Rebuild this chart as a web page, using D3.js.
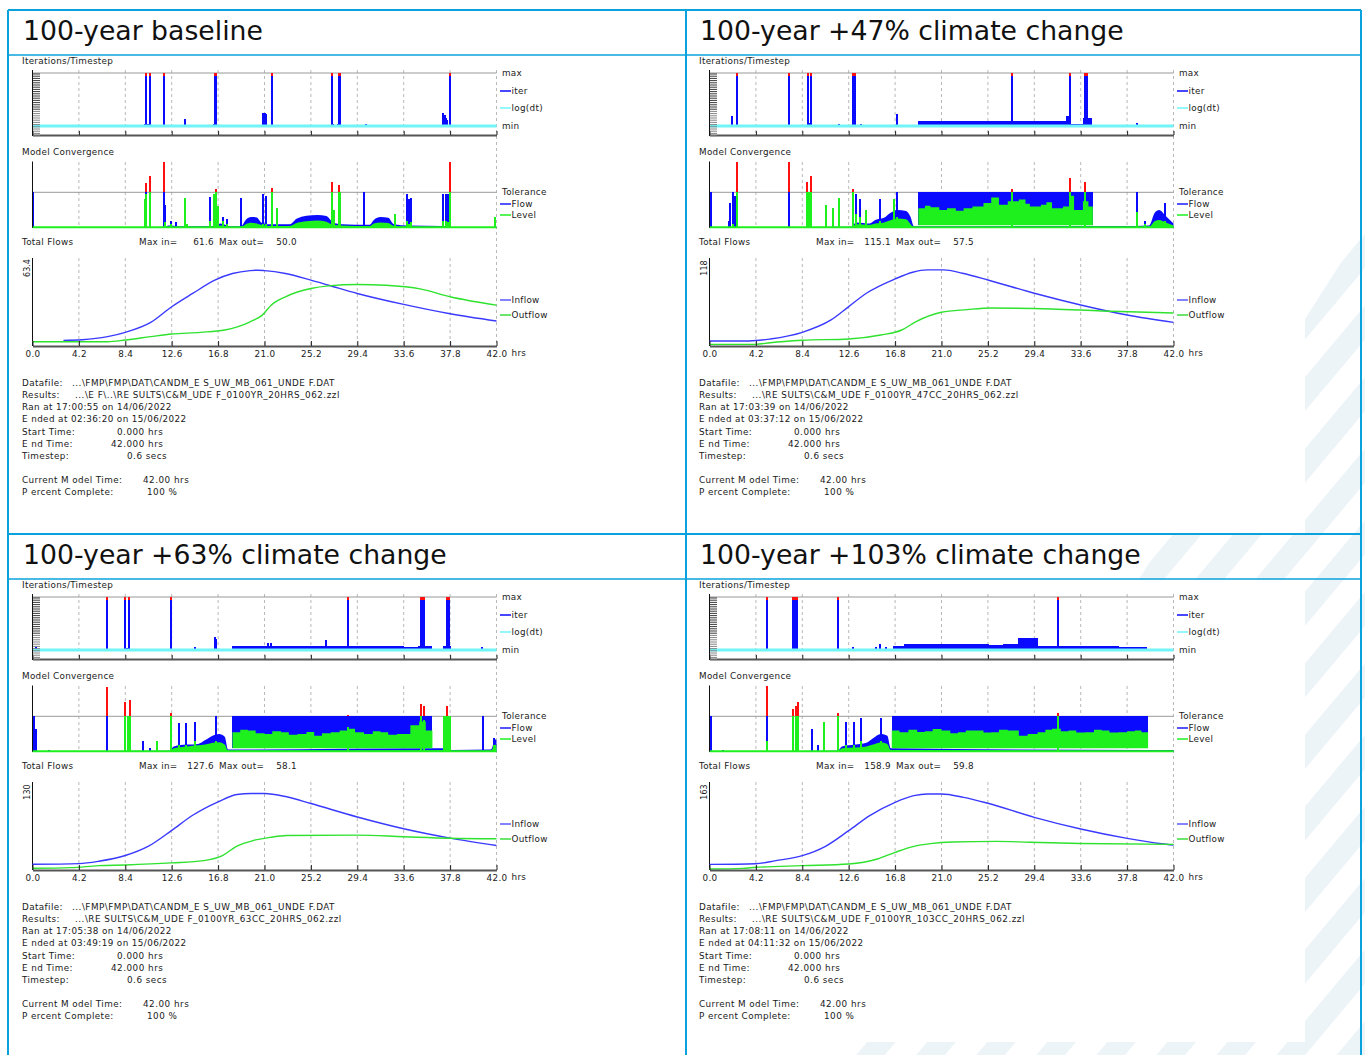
<!DOCTYPE html>
<html>
<head>
<meta charset="utf-8">
<script src="https://cdn.jsdelivr.net/npm/d3@7"></script>
<style>
body { margin: 0; background: #fff; }
text { font-family: "DejaVu Sans", Verdana, sans-serif; }
rect { shape-rendering: crispEdges; }
</style>
</head>
<body>
<script>
// ---- data ----
const hourTicks = [0, 4.2, 8.4, 12.6, 16.8, 21.0, 25.2, 29.4, 33.6, 37.8, 42.0];
const titles = ["100-year baseline", "100-year +47% climate change",
                "100-year +63% climate change", "100-year +103% climate change"];
const maxIn = [61.6, 115.1, 127.6, 158.9];
const maxOut = [50.0, 57.5, 58.1, 59.8];
const flowTop = [63.4, 118, 130, 163];

const datafile = "...\\FMP\\FMP\\DAT\\CANDM_E S_UW_MB_061_UNDE F.DAT";
const resultFiles = ["...\\E F\\..\\RE SULTS\\C&M_UDE F_0100YR_20HRS_062.zzl",
                     "...\\RE SULTS\\C&M_UDE F_0100YR_47CC_20HRS_062.zzl",
                     "...\\RE SULTS\\C&M_UDE F_0100YR_63CC_20HRS_062.zzl",
                     "...\\RE SULTS\\C&M_UDE F_0100YR_103CC_20HRS_062.zzl"];
const ranAt = ["17:00:55 on 14/06/2022", "17:03:39 on 14/06/2022", "17:05:38 on 14/06/2022", "17:08:11 on 14/06/2022"];
const endedAt = ["02:36:20 on 15/06/2022", "03:37:12 on 15/06/2022", "03:49:19 on 15/06/2022", "04:11:32 on 15/06/2022"];

// total flows [hrs, m3/s]
const baseInflow = [[2.8,4.6],[4.5,5.1],[6.8,7.6],[8.4,11.1],[10.7,19.2],[12.6,31.9],[14.5,42.7],[16.5,53.5],[18.1,58.9],[19.7,61.3],[20.4,61.6],[21.0,61.3],[22.9,58.9],[25.2,53.5],[26.8,49.4],[29.4,42.7],[33.6,33.8],[37.8,26.2],[42,20.3]];
const baseOutflow = [[0,3.5],[6.8,3.5],[8.4,4.9],[10.7,7.6],[12.6,9.7],[15.2,11.1],[17.4,13.0],[19.7,19.7],[20.8,25.1],[21.6,33.2],[22.9,40.0],[25.2,46.7],[26.8,48.9],[29.4,50.0],[32.0,49.4],[35.2,46.2],[37.8,40.0],[42,33.2]];
const cc47Inflow = [[0,7.6],[3.6,7.6],[5.5,10.6],[8.4,20.7],[11.0,39.4],[12.6,59.6],[14.2,79.8],[16.8,101.5],[18.4,111.6],[19.7,115.1],[21.2,115.1],[22.9,110.0],[25.2,99.9],[29.4,79.8],[33.6,62.1],[37.8,46.9],[42,35.8]];
const cc47Outflow = [[0,2.5],[4.2,2.5],[5.5,5.0],[8.4,8.6],[12.6,10.6],[15.5,16.7],[17.4,24.2],[18.7,36.9],[21.0,51.0],[23.3,55.0],[25.5,57.5],[31.0,56.0],[35.5,53.0],[42,50.0]];
const cc63Inflow = [[0,9.5],[4.2,10.6],[6.0,14.5],[8.4,24.1],[10.5,39.7],[12.6,66.0],[14.5,91.2],[16.8,113.6],[18.5,125.9],[19.8,127.6],[21.0,127.6],[23.0,122.0],[25.2,110.8],[29.4,88.4],[33.6,68.8],[37.8,53.2],[42,40.9]];
const cc63Outflow = [[0,2.8],[3.5,3.9],[6.0,7.3],[8.4,8.4],[12.6,11.8],[15.5,15.7],[17.2,24.1],[18.5,39.7],[20.0,49.2],[21.5,54.3],[23.0,57.5],[29.4,58.1],[33.6,55.5],[37.8,53.0],[42,52.0]];
const cc103Inflow = [[0,11.8],[4.2,13.2],[6.0,19.5],[8.4,30.0],[10.5,49.5],[12.6,82.2],[14.5,113.6],[16.8,141.5],[18.5,155.4],[19.7,158.9],[21.0,158.9],[23.0,151.9],[25.2,139.4],[29.4,110.1],[33.6,85.7],[37.8,66.2],[40.9,55.0],[42,52.3]];
const cc103Outflow = [[0,2.1],[3.0,3.5],[4.2,5.6],[8.4,9.1],[12.6,12.5],[15.2,23.0],[16.8,36.9],[18.5,49.5],[20.0,55.1],[22.0,58.5],[26.0,59.8],[29.0,58.0],[33.6,55.5],[42,53.5]];

// iterations/timestep: spikes [hrs, fraction of min..max], bands [from, to, fraction]
const baseIterSpikes = [[10.3,1],[10.6,1],[11.9,1],[16.5,1],[16.6,1],[21.7,1],[27.1,1],[27.7,1],[27.8,1],[37.8,1],[13.8,0.13],[20.9,0.25],[21.0,0.25],[21.1,0.22],[30.2,0.04],[37.2,0.25],[37.3,0.2],[37.4,0.15],[37.5,0.12]];
const baseIterBands = [[10.1,10.6,0.03],[16.3,16.7,0.04],[20.8,21.1,0.1],[27.0,27.3,0.04],[27.6,27.9,0.04],[37.1,37.6,0.1]];
const cc47IterSpikes = [[2.5,1],[7.2,1],[8.9,1],[9.2,1],[13.0,1],[13.1,1],[13.2,1],[27.4,1],[32.6,1],[34.0,1],[34.1,1],[34.2,1],[2.0,0.19],[11.7,0.04],[13.7,0.04],[17.0,0.22],[38.7,0.05]];
const cc47IterBands = [[8.8,9.3,0.05],[18.9,32.3,0.09],[32.3,32.6,0.18],[32.6,33.8,0.03],[33.8,34.6,0.15]];
const cc63IterSpikes = [[6.7,1],[8.4,1],[8.7,1],[12.5,1],[28.6,1],[35.2,1],[35.3,1],[35.4,1],[37.5,1],[37.6,1],[37.7,1],[14.7,0.05],[16.5,0.25],[16.6,0.2],[21.3,0.13],[21.6,0.13],[26.6,0.18],[40.7,0.05],[0.3,0.05]];
const cc63IterBands = [[8.3,8.7,0.04],[18.1,33.6,0.08],[33.6,34.9,0.05],[34.9,36.2,0.07],[37.2,37.9,0.07]];
const cc103IterSpikes = [[5.2,1],[7.6,1],[7.7,1],[7.9,1],[11.6,1],[31.5,1],[12.96,0.06],[15.1,0.06],[15.4,0.12],[16.0,0.06]];
const cc103IterBands = [[16.6,17.6,0.08],[17.6,25.3,0.12],[25.3,26.6,0.1],[26.6,27.9,0.12],[27.9,29.7,0.22],[29.7,37.1,0.08],[37.1,39.6,0.05]];

// model convergence (1 = tolerance): spikes [hrs, flow, level], solid bands [from, to, flow, level]
const baseConvSpikes = [[0.05,1.0,0],[10.2,0,0.8],[10.3,1.25,0.95],[10.6,1.45,1.0],[11.9,1.86,0],[12.0,0.65,0.15],[12.5,0.2,0.1],[13.0,0.15,0],[13.8,0,0.85],[14.0,0.1,0.1],[16.1,0.87,0.2],[16.4,0,0.95],[16.6,1.1,1.0],[16.8,0.5,0.6],[17.2,0.3,0.2],[17.6,0.25,0.1],[18.9,0.85,0],[20.9,0.95,0.1],[21.1,0.9,0.1],[21.7,1.12,1.0],[22.1,0.1,0.55],[27.1,1.3,1.0],[27.3,0.25,0.5],[27.7,1.2,1.0],[27.8,0.9,1.0],[30.0,1.0,0],[32.8,0.05,0.4],[33.9,0.95,0.2],[34.1,0.8,0.1],[34.3,0.85,0.15],[37.2,0.95,0.2],[37.4,0.95,0.2],[37.6,0.95,0.15],[37.8,1.86,1.0],[41.9,0.05,0.3]];
const baseConvBands = [];
const cc47ConvSpikes = [[0.1,1.0,0],[1.8,0.2,0],[1.9,0.7,0],[2.1,1.0,0.1],[2.3,0.9,0],[2.5,1.86,1.0],[7.2,1.86,0],[8.8,1.3,1.0],[9.0,1.0,1.0],[9.2,1.45,1.0],[10.5,0,0.65],[11.2,0,0.55],[11.7,0,0.85],[13.0,1.1,1.0],[13.3,0.95,0.4],[13.6,0.8,0.3],[14.2,0.3,0.5],[15.4,0.8,0.2],[16.7,0.3,0.8],[17.0,1.0,0.3],[27.4,1.1,1.0],[32.6,1.4,1.0],[34.0,1.3,1.0],[38.7,1.0,0.45],[39.4,0.2,0.1],[41.2,0.7,0.2]];
const cc47ConvBands = [];
const cc63ConvSpikes = [[0.1,1.0,0],[0.3,0.65,0],[1.5,0.05,0],[6.7,1.83,0],[8.4,1.4,1.0],[8.6,1.0,1.0],[8.8,1.45,1.0],[10.0,0.3,0],[10.6,0.1,0],[11.3,0,0.3],[12.5,1.1,1.0],[13.3,0.8,0.2],[13.9,0.8,0.2],[14.7,0.85,0.3],[16.6,1.0,0.3],[28.6,1.05,0.7],[35.2,1.35,1.0],[35.4,1.3,0.9],[37.5,1.3,1.0],[40.8,1.0,0],[41.8,0.4,0.2]];
const cc63ConvBands = [[37.2,37.9,1.0,1.0]];
const cc103ConvSpikes = [[0.1,1.0,0],[1.2,0.05,0],[5.2,1.86,0.3],[7.6,1.2,1.0],[7.8,1.3,1.0],[8.0,1.4,1.0],[9.3,0.65,0],[9.8,0.2,0],[10.4,0,0.85],[11.6,1.1,1.0],[12.4,0.85,0.2],[13.1,0.85,0.2],[13.7,0.95,0.3],[15.5,0.95,0.3],[31.5,1.1,1.0]];
const cc103ConvBands = [];

// low-level convergence envelope [hrs, flow, level]
const baseConvLow = [[0,0.02,0.02],[12.0,0.02,0.02],[12.3,0.06,0.03],[13.2,0.04,0.02],[16.4,0.05,0.03],[17.0,0.12,0.06],[18.0,0.04,0.02],[18.9,0.05,0.03],[19.3,0.22,0.1],[19.8,0.3,0.14],[20.3,0.29,0.12],[20.7,0.15,0.08],[21.3,0.1,0.05],[23.3,0.1,0.05],[23.9,0.25,0.13],[24.8,0.34,0.18],[25.8,0.36,0.2],[26.6,0.33,0.17],[27.2,0.15,0.08],[28.0,0.1,0.06],[30.5,0.08,0.04],[30.9,0.22,0.12],[31.5,0.3,0.15],[32.2,0.28,0.13],[32.7,0.1,0.05],[34.0,0.06,0.03],[37.0,0.05,0.03],[38.2,0.02,0.02],[42,0.02,0.02]];
const cc47ConvLow = [[0,0.02,0.02],[12.8,0.03,0.02],[13.3,0.15,0.1],[14.5,0.12,0.08],[15.0,0.22,0.12],[15.8,0.28,0.15],[16.3,0.4,0.2],[17.0,0.5,0.26],[17.8,0.47,0.24],[18.2,0.3,0.1],[18.5,0.04,0.02],[34.8,0.05,0.03],[38.5,0.05,0.03],[39.8,0.06,0.03],[40.3,0.42,0.18],[40.7,0.5,0.22],[41.3,0.33,0.15],[42,0.12,0.06]];
const cc63ConvLow = [[0,0.02,0.02],[12.4,0.03,0.02],[12.8,0.15,0.1],[14.0,0.2,0.15],[15.0,0.22,0.18],[15.6,0.32,0.2],[16.3,0.45,0.25],[16.9,0.5,0.27],[17.4,0.42,0.2],[17.7,0.06,0.03],[36.3,0.1,0.04],[37.1,0.1,0.04],[38.0,0.05,0.03],[41.5,0.06,0.03],[41.9,0.35,0.2],[42,0.3,0.15]];
const cc103ConvLow = [[0,0.02,0.02],[11.6,0.03,0.02],[12.0,0.15,0.1],[13.2,0.2,0.12],[14.2,0.25,0.15],[14.8,0.38,0.2],[15.5,0.5,0.26],[16.1,0.45,0.22],[16.4,0.1,0.05],[39.8,0.05,0.03],[42,0.05,0.03]];

// saturated convergence blocks: [from, to, base] and level profile [hrs, level]
const cc47Block = [18.9, 34.7, 0.07];
const cc47BlockLevel = [[18.9,0.55],[19.5,0.62],[20.0,0.58],[20.8,0.5],[21.5,0.55],[22.3,0.48],[23.0,0.55],[23.8,0.6],[24.8,0.7],[25.5,0.85],[26.2,0.65],[27.0,0.75],[28.0,0.8],[28.6,0.68],[29.0,0.6],[30.0,0.65],[30.5,0.72],[31.0,0.55],[32.0,0.6],[32.6,0.9],[33.0,0.5],[33.8,0.75],[34.3,0.6],[34.7,0.6]];
const cc63Block = [18.1, 36.2, 0.1];
const cc63BlockLevel = [[18.1,0.55],[18.8,0.62],[19.5,0.6],[20.2,0.52],[21.0,0.5],[21.7,0.58],[22.5,0.55],[23.2,0.48],[24.0,0.5],[24.8,0.56],[25.5,0.45],[26.2,0.52],[27.0,0.55],[27.8,0.6],[28.5,0.65],[29.2,0.55],[30.0,0.5],[30.8,0.58],[31.5,0.55],[32.2,0.48],[33.0,0.5],[34.2,0.75],[35.0,0.85],[35.6,0.6],[36.2,0.6]];
const cc103Block = [16.5, 39.7, 0.1];
const cc103BlockLevel = [[16.5,0.6],[17.2,0.55],[18.0,0.62],[18.8,0.56],[19.5,0.58],[20.2,0.64],[21.0,0.6],[21.8,0.52],[22.5,0.55],[23.2,0.6],[24.0,0.6],[24.8,0.54],[25.5,0.55],[26.2,0.62],[27.0,0.6],[28.0,0.45],[28.8,0.5],[29.7,0.55],[30.4,0.62],[31.0,0.65],[31.8,0.58],[32.5,0.6],[33.2,0.54],[34.0,0.55],[34.8,0.62],[35.5,0.6],[36.2,0.54],[37.0,0.55],[37.8,0.58],[38.5,0.6],[39.1,0.55],[39.7,0.55]];

const cellOrigin = [[8,10],[685,10],[8,534],[685,534]];

const panels = titles.map((t, i) => ({
    title: t,
    inflow: [baseInflow, cc47Inflow, cc63Inflow, cc103Inflow][i],
    outflow: [baseOutflow, cc47Outflow, cc63Outflow, cc103Outflow][i],
    iterSpikes: [baseIterSpikes, cc47IterSpikes, cc63IterSpikes, cc103IterSpikes][i],
    iterBands: [baseIterBands, cc47IterBands, cc63IterBands, cc103IterBands][i],
    convSpikes: [baseConvSpikes, cc47ConvSpikes, cc63ConvSpikes, cc103ConvSpikes][i],
    convBands: [baseConvBands, cc47ConvBands, cc63ConvBands, cc103ConvBands][i],
    convLow: [baseConvLow, cc47ConvLow, cc63ConvLow, cc103ConvLow][i],
    block: [null, cc47Block, cc63Block, cc103Block][i],
    blockLevel: [null, cc47BlockLevel, cc63BlockLevel, cc103BlockLevel][i]
}));

const BLUE = "#0a0aff", GREEN = "#1ef01e", RED = "#ff1010", CYAN = "#70f4f8";
const FS = 8.8, SPK = 2;

const svg = d3.select("body").append("svg").attr("width", 1365).attr("height", 1055);

// faint striped page background at the lower right
const pat = svg.append("defs").append("pattern").attr("id", "stripes")
    .attr("patternUnits", "userSpaceOnUse").attr("width", 46).attr("height", 46)
    .attr("patternTransform", "rotate(40)");
pat.append("rect").attr("width", 22).attr("height", 46).attr("fill", "#edf4f8");
svg.append("path").attr("d", "M1365,225 L1365,1055 L835,1055 Z").attr("fill", "url(#stripes)");
svg.append("rect").attr("x", 688).attr("y", 56).attr("width", 617).attr("height", 477).attr("fill", "#fff");
svg.append("rect").attr("x", 688).attr("y", 580).attr("width", 617).attr("height", 462).attr("fill", "#fff");

function txt(g, x, y, s, size, spacing) {
    return g.append("text").attr("x", x).attr("y", y).attr("dy", "0.35em")
        .attr("font-size", size || FS).attr("letter-spacing", spacing != null ? spacing : 0.3)
        .attr("fill", "#1a1a1a").text(s);
}

function legendLine(g, x, y, col, s) {
    g.append("line").attr("x1", x).attr("x2", x + 11).attr("y1", y).attr("y2", y)
        .attr("stroke", col).attr("stroke-width", 1.5);
    txt(g, x + 11.5, y, s);
}

function grid(g, x, y0, y1) {
    g.selectAll(null).data(hourTicks.slice(1, -1)).enter().append("line")
        .attr("x1", d => x(d)).attr("x2", d => x(d)).attr("y1", y0).attr("y2", y1)
        .attr("stroke", "#b8b8b8").attr("stroke-dasharray", "3,3");
}

function drawPanel(p, i) {
    const [ox, oy] = cellOrigin[i];
    const g = svg.append("g");
    const x = d3.scaleLinear().domain([0, 42]).range([ox + 24.5, ox + 488.5]);
    const yIt = d3.scaleLinear().domain([0, 1]).range([oy + 116, oy + 63]);
    const yCv = d3.scaleLinear().domain([0, 1]).range([oy + 217.7, oy + 182.3]);
    const yFl = d3.scaleLinear().domain([0, flowTop[i]]).range([oy + 336, oy + 258]);

    txt(g, ox + 15, oy + 20.5, p.title, 26.7, 0).attr("fill", "#111");

    // right-hand dashed line at 42 h runs through all three plots
    g.append("line").attr("x1", x(42)).attr("x2", x(42)).attr("y1", oy + 60).attr("y2", oy + 336)
        .attr("stroke", "#b8b8b8").attr("stroke-dasharray", "3,3");

    // ---- Iterations/Timestep ----
    txt(g, ox + 14, oy + 51, "Iterations/Timestep");
    grid(g, x, oy + 60, oy + 124);
    g.append("line").attr("x1", x(0)).attr("x2", x(42)).attr("y1", yIt(1)).attr("y2", yIt(1))
        .attr("stroke", "#999");
    g.selectAll(null).data(p.iterBands).enter().append("rect")
        .attr("x", d => x(d[0])).attr("width", d => x(d[1]) - x(d[0]))
        .attr("y", d => yIt(d[2])).attr("height", d => yIt(0) - yIt(d[2]) + 1).attr("fill", BLUE);
    g.selectAll(null).data(p.iterSpikes).enter().append("rect")
        .attr("x", d => x(d[0]) - SPK / 2).attr("width", SPK)
        .attr("y", d => yIt(d[1])).attr("height", d => yIt(0) - yIt(d[1])).attr("fill", BLUE);
    g.selectAll(null).data(p.iterSpikes.filter(d => d[1] >= 1)).enter().append("rect")
        .attr("x", d => x(d[0]) - SPK / 2).attr("width", SPK)
        .attr("y", yIt(1)).attr("height", 2.5).attr("fill", RED);
    g.append("line").attr("x1", x(0)).attr("x2", x(42)).attr("y1", yIt(0)).attr("y2", yIt(0))
        .attr("stroke", CYAN).attr("stroke-width", 3);
    const itAx = g.append("g").attr("transform", `translate(0,${oy + 125})`)
        .call(d3.axisBottom(x).tickValues(hourTicks).tickFormat("").tickSizeInner(-4).tickSizeOuter(0));
    itAx.select(".domain").attr("stroke", "#555").attr("stroke-width", 2);
    itAx.selectAll(".tick line").attr("stroke", "#222");
    g.selectAll(null).data(d3.range(oy + 64, oy + 126, 2.2)).enter().append("line")
        .attr("x1", x(0)).attr("x2", x(0) + 7.5).attr("y1", d => d).attr("y2", d => d)
        .attr("stroke", d => d < oy + 100 ? "#222" : "#777").attr("stroke-width", 0.9);
    g.append("line").attr("x1", x(0)).attr("x2", x(0)).attr("y1", oy + 60).attr("y2", oy + 126)
        .attr("stroke", "#111");
    txt(g, ox + 494, oy + 63, "max");
    legendLine(g, ox + 492, oy + 81, BLUE, "iter");
    legendLine(g, ox + 492, oy + 98, CYAN, "log(dt)");
    txt(g, ox + 494, oy + 116, "min");

    // ---- Model Convergence ----
    txt(g, ox + 14, oy + 142, "Model Convergence");
    grid(g, x, oy + 152, oy + 217.7);
    g.append("line").attr("x1", x(0)).attr("x2", x(42)).attr("y1", yCv(1)).attr("y2", yCv(1))
        .attr("stroke", "#999");
    const lowArea = k => d3.area().x(d => x(d[0])).y0(yCv(0)).y1(d => yCv(d[k])).curve(d3.curveMonotoneX);
    g.append("path").datum(p.convLow).attr("d", lowArea(1)).attr("fill", BLUE);
    if (p.block) {
        g.append("rect").attr("x", x(p.block[0])).attr("width", x(p.block[1]) - x(p.block[0]))
            .attr("y", yCv(1)).attr("height", yCv(p.block[2]) - yCv(1)).attr("fill", BLUE);
    }
    g.selectAll(null).data(p.convBands).enter().append("rect")
        .attr("x", d => x(d[0])).attr("width", d => x(d[1]) - x(d[0]))
        .attr("y", d => yCv(Math.min(d[2], 1))).attr("height", d => yCv(0) - yCv(Math.min(d[2], 1)))
        .attr("fill", BLUE);
    g.selectAll(null).data(p.convSpikes.filter(d => d[1] > 0)).enter().append("rect")
        .attr("x", d => x(d[0]) - SPK / 2).attr("width", SPK)
        .attr("y", d => yCv(Math.min(d[1], 1))).attr("height", d => yCv(0) - yCv(Math.min(d[1], 1)))
        .attr("fill", BLUE);
    g.append("path").datum(p.convLow).attr("d", lowArea(2)).attr("fill", GREEN);
    if (p.block) {
        g.append("path").datum(p.blockLevel)
            .attr("d", d3.area().x(d => x(d[0])).y0(yCv(p.block[2])).y1(d => yCv(d[1])).curve(d3.curveStepAfter))
            .attr("fill", GREEN);
    }
    g.selectAll(null).data(p.convBands).enter().append("rect")
        .attr("x", d => x(d[0])).attr("width", d => x(d[1]) - x(d[0]))
        .attr("y", d => yCv(d[3])).attr("height", d => yCv(0) - yCv(d[3])).attr("fill", GREEN);
    g.selectAll(null).data(p.convSpikes.filter(d => d[2] > 0)).enter().append("rect")
        .attr("x", d => x(d[0]) - SPK / 2).attr("width", SPK)
        .attr("y", d => yCv(d[2])).attr("height", d => yCv(0) - yCv(d[2])).attr("fill", GREEN);
    g.selectAll(null).data(p.convSpikes.filter(d => d[1] > 1)).enter().append("rect")
        .attr("x", d => x(d[0]) - SPK / 2).attr("width", SPK)
        .attr("y", d => yCv(d[1])).attr("height", d => yCv(1) - yCv(d[1])).attr("fill", RED);
    g.append("line").attr("x1", x(0)).attr("x2", x(42)).attr("y1", yCv(0) - 0.5).attr("y2", yCv(0) - 0.5)
        .attr("stroke", GREEN).attr("stroke-width", 2);
    g.append("line").attr("x1", x(0)).attr("x2", x(0)).attr("y1", oy + 151.5).attr("y2", yCv(0))
        .attr("stroke", "#111");
    txt(g, ox + 494, oy + 182, "Tolerance");
    legendLine(g, ox + 492, oy + 194, "#1a1aff", "Flow");
    legendLine(g, ox + 492, oy + 205, GREEN, "Level");

    // ---- Total Flows ----
    txt(g, ox + 14, oy + 232, "Total Flows");
    txt(g, ox + 131, oy + 232, "Max in=");
    txt(g, ox + 206, oy + 232, maxIn[i].toFixed(1)).attr("text-anchor", "end");
    txt(g, ox + 211, oy + 232, "Max out=");
    txt(g, ox + 289, oy + 232, maxOut[i].toFixed(1)).attr("text-anchor", "end");
    grid(g, x, oy + 248, oy + 336);
    g.append("line").attr("x1", x(0)).attr("x2", x(0)).attr("y1", oy + 248).attr("y2", oy + 336)
        .attr("stroke", "#111");
    g.append("text").attr("transform", `translate(${ox + 19.5},${yFl(flowTop[i])}) rotate(-90)`)
        .attr("text-anchor", "middle").attr("dy", "0.35em").attr("font-size", 8)
        .attr("fill", "#1a1a1a").text(flowTop[i]);
    const line = d3.line().x(d => x(d[0])).y(d => yFl(d[1])).curve(d3.curveMonotoneX);
    g.append("path").datum(p.inflow).attr("d", line).attr("fill", "none")
        .attr("stroke", "#3a3aff").attr("stroke-width", 1.4);
    g.append("path").datum(p.outflow).attr("d", line).attr("fill", "none")
        .attr("stroke", "#2ee22e").attr("stroke-width", 1.4);
    const flAx = g.append("g").attr("transform", `translate(0,${oy + 336})`)
        .call(d3.axisBottom(x).tickValues(hourTicks).tickFormat(d3.format(".1f"))
            .tickSizeInner(-5).tickSizeOuter(0).tickPadding(5));
    flAx.select(".domain").attr("stroke", "#555").attr("stroke-width", 2);
    flAx.selectAll(".tick line").attr("stroke", "#222");
    flAx.selectAll(".tick text").attr("font-size", FS).attr("font-family", "DejaVu Sans")
        .attr("letter-spacing", 0.3).attr("fill", "#1a1a1a");
    txt(g, x(42) + 15, oy + 343, "hrs");
    legendLine(g, ox + 492, oy + 290, "#5a5aff", "Inflow");
    legendLine(g, ox + 492, oy + 305, "#3add3a", "Outflow");

    // ---- run information ----
    const info = [
        [373, "Datafile:", 64, datafile],
        [385, "Results:", 67, resultFiles[i]],
        [397, "Ran at " + ranAt[i], 0, ""],
        [409, "E nded at " + endedAt[i], 0, ""],
        [422, "Start Time:", 109, "0.000 hrs"],
        [434, "E nd Time:", 103, "42.000 hrs"],
        [446, "Timestep:", 119, "0.6 secs"],
        [470, "Current M odel Time:", 135, "42.00 hrs"],
        [482, "P ercent Complete:", 139, "100 %"]
    ];
    info.forEach(r => {
        txt(g, ox + 14, oy + r[0], r[1], FS, 0.4);
        if (r[3]) txt(g, ox + r[2], oy + r[0], r[3], FS, 0.5);
    });
}

panels.forEach(drawPanel);

// table borders
const BORDER = "#0aa2dc";
[[8, 10, 1361, 10, 2], [8, 55, 1361, 55, 1.5], [8, 534, 1361, 534, 2], [8, 579, 1361, 579, 1.5],
 [8, 10, 8, 1055, 2], [686, 10, 686, 1055, 2], [1361, 10, 1361, 1055, 2]].forEach(s => {
    svg.append("line").attr("x1", s[0]).attr("y1", s[1]).attr("x2", s[2]).attr("y2", s[3])
        .attr("stroke", BORDER).attr("stroke-width", s[4]);
});
</script>
</body>
</html>
